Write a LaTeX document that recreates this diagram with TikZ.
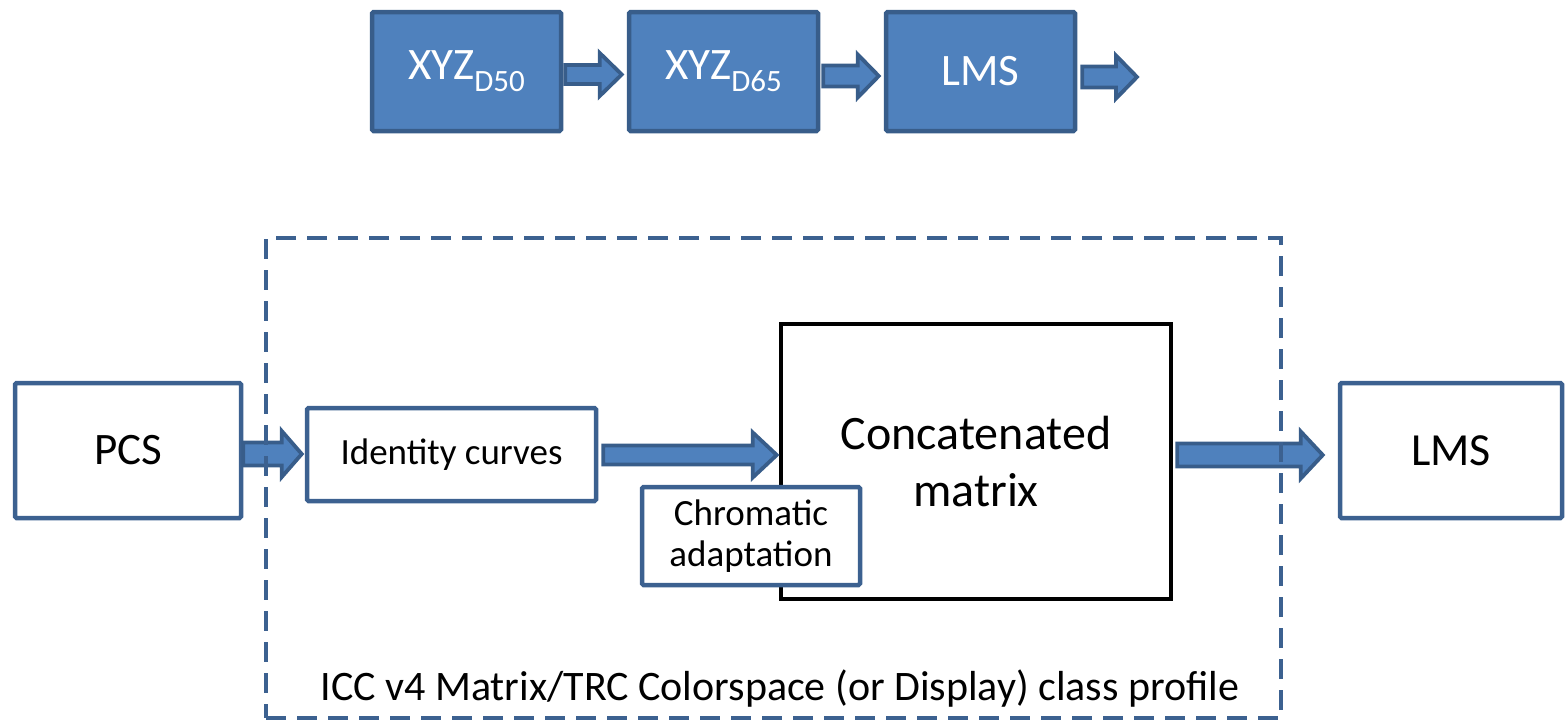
\documentclass[tikz,border=0pt]{standalone}
\usepackage{fontspec}
\setmainfont{Carlito}
\usetikzlibrary{calc}
\definecolor{bfill}{HTML}{4F81BD}
\definecolor{bdark}{HTML}{385D8A}
\definecolor{bline}{HTML}{3C6190}
\tikzset{
  topbox/.style={draw=bdark, fill=bfill, line width=4.5pt, rounded corners=1.5pt, minimum width=189pt, minimum height=119pt, inner sep=0pt, text=white, font=\fontsize{45}{45}\selectfont},
  wbox/.style={draw=bline, fill=white, line width=4.5pt, rounded corners=1.5pt, inner sep=0pt, align=center},
  mbox/.style={draw=black, fill=white, line width=4.5pt, inner sep=0pt, align=center},
  barrow/.style={draw=bdark, fill=bfill, line width=3.8pt, line join=miter},
  dashframe/.style={draw=bline, line width=4.5pt, dash pattern=on 20pt off 11pt},
}
\newcommand\blockarrow[5]{%
  \draw[barrow] let \p1=#1, \p2=#2 in
   (\x1,\y1+#3) -- (\x2-#5,\y1+#3) -- (\x2-#5,\y1+#4) -- (\x2,\y1) --
   (\x2-#5,\y1-#4) -- (\x2-#5,\y1-#3) -- (\x1,\y1-#3) -- cycle;}
\newcommand\subD[1]{\raisebox{-12pt}{\fontsize{31}{31}\selectfont #1}}
\begin{document}
\begin{tikzpicture}[x=1pt,y=-1pt]
\useasboundingbox (0,0) rectangle (1566,721);
% top row
\node[topbox] (xyz50) at (466.5,71.5) {XYZ\subD{D50}};
\node[topbox] (xyz65) at (723.5,71.5) {XYZ\subD{D65}};
\node[topbox] (lmstop) at (980.5,71.5) {LMS};
\coordinate (topout) at (1137,75);
\blockarrow{($(xyz50.east|-0,74.5)+(2,0)$)}{($(xyz65.west|-0,74.5)+(-5,0)$)}{9.5pt}{21.5pt}{22pt}
\blockarrow{($(xyz65.east|-0,76)+(3,0)$)}{($(lmstop.west|-0,76)+(-5,0)$)}{10.5pt}{21.5pt}{21pt}
\blockarrow{($(lmstop.east|-0,77)+(5,0)$)}{(topout|-0,77)}{10.5pt}{21.5pt}{21pt}
% bottom
\node[wbox, minimum width=226pt, minimum height=135pt, font=\fontsize{45}{45}\selectfont] (pcs) at (128,450.5) {PCS};
\node[wbox, minimum width=289pt, minimum height=93pt, font=\fontsize{37}{37}\selectfont] (ident) at (451.5,454.5) {Identity curves};
\node[mbox, minimum width=390pt, minimum height=275pt, font=\fontsize{48}{57}\selectfont] (matrix) at (976,461.5) {Concatenated\\matrix};
\node[wbox, minimum width=218pt, minimum height=98pt, font=\fontsize{37}{41}\selectfont] (chrom) at (751,536) {Chromatic\\adaptation};
\node[wbox, minimum width=222pt, minimum height=135pt, font=\fontsize{46}{46}\selectfont] (lms) at (1451,450.5) {LMS};
\blockarrow{($(pcs.east|-0,454)+(0,0)$)}{($(ident.west|-0,454)+(-3,0)$)}{11.5pt}{23pt}{20pt}
\blockarrow{($(ident.east|-0,455)+(5,0)$)}{($(matrix.west|-0,455)+(-2,0)$)}{9.5pt}{22.5pt}{24pt}
\blockarrow{($(matrix.east|-0,455)+(4,0)$)}{($(lms.west|-0,455)+(-15,0)$)}{11.5pt}{23.5pt}{22pt}
\node[draw=none, fill=none, dashframe, minimum width=1015pt, minimum height=480pt, inner sep=0pt] (frame) at (773.5,478) {};
\node[font=\fontsize{42}{42}\selectfont, anchor=base] (framelabel) at (780,700) {ICC v4 Matrix/TRC Colorspace (or Display) class profile};
\end{tikzpicture}
\end{document}
